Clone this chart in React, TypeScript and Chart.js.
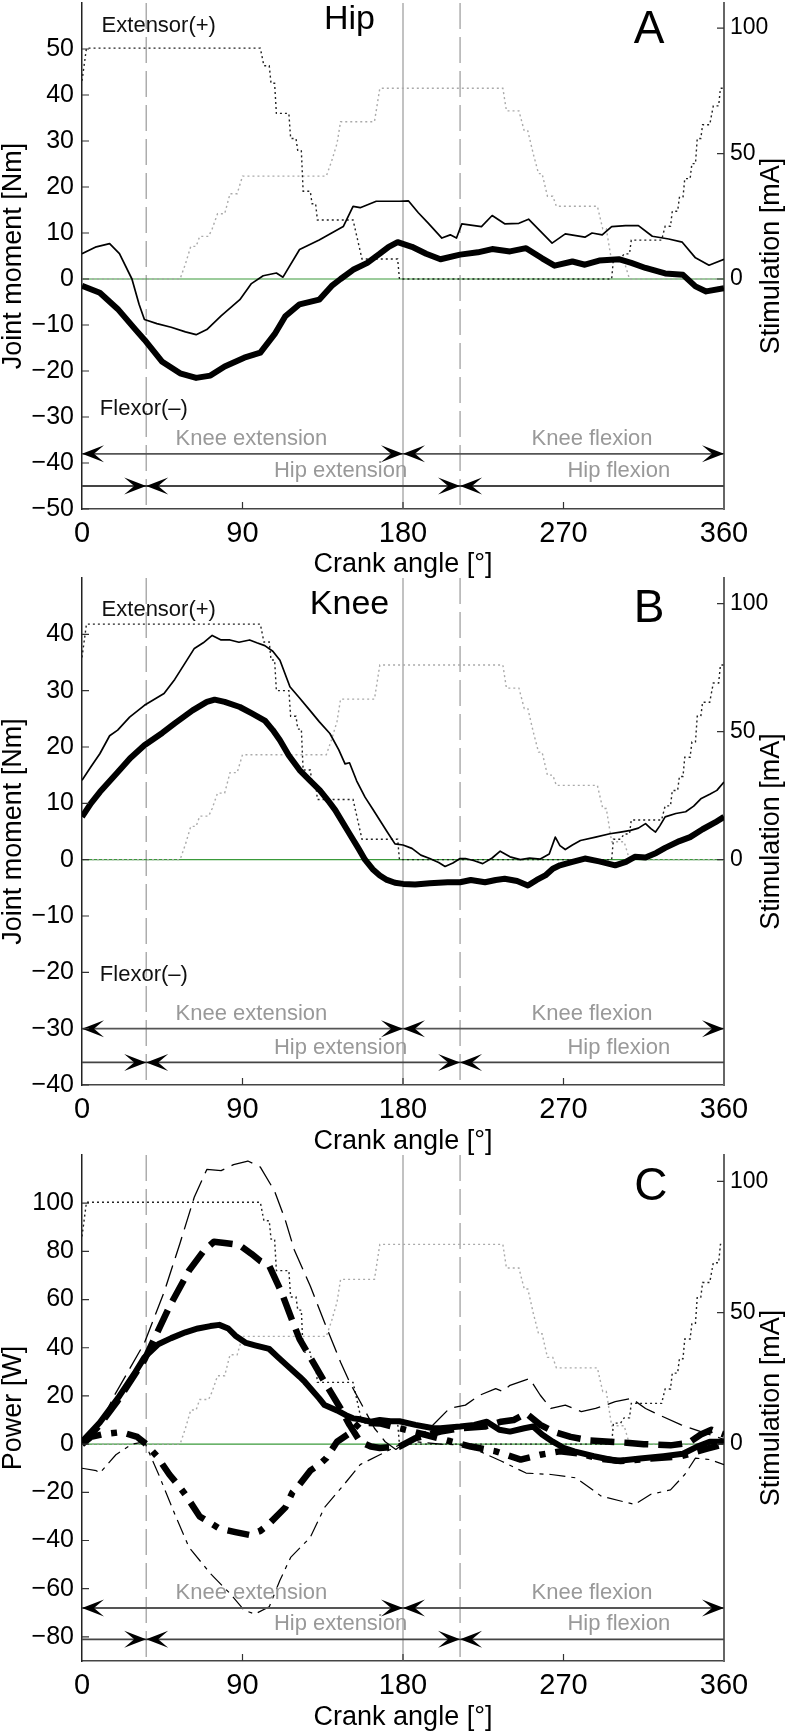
import React, { useEffect, useRef } from 'react';
import { Chart, registerables } from 'chart.js';
Chart.register(...registerables);

const FONT = "'Liberation Sans', Arial, Helvetica, sans-serif";

// ---------- shared axis ticks ----------
const xTicks = [0, 90, 180, 270, 360];
const stimTicks = [0, 50, 100];
const hipTicksA = [-50, -40, -30, -20, -10, 0, 10, 20, 30, 40, 50];
const kneeTicksB = [-40, -30, -20, -10, 0, 10, 20, 30, 40];
const powerTicksC = [-80, -60, -40, -20, 0, 20, 40, 60, 80, 100];

// ---------- stimulation (mA) ----------
const stimExtDeg = [0, 2.5, 100, 102, 105, 106, 108, 109, 116, 117, 120, 121, 123, 124, 128, 129, 131, 132, 152, 157, 177, 178, 297, 298, 302, 304, 307, 308, 325, 327, 330, 331, 334, 335, 337, 338, 341, 342, 344, 345, 347, 348, 352, 354, 357, 358, 360];
const stimExtMA = [79, 92, 92, 85, 85, 78, 78, 66, 66, 56, 56, 51, 51, 35, 35, 30, 30, 23.5, 23.5, 8, 8, 0, 0, 8, 8, 10, 10, 15.5, 15.5, 21, 21, 27, 27, 32.5, 32.5, 40, 40, 46, 46, 56, 56, 61.5, 61.5, 69, 69, 76, 76];
const stimFlxDeg = [0, 55, 58, 61, 64, 66, 71, 73, 76, 80, 83, 87, 90, 137, 140, 143, 145, 164, 167, 236, 238, 245, 248, 250, 253, 256, 258, 261, 264, 266, 289, 292, 294, 297, 304, 307, 360];
const stimFlxMA = [0, 0, 6, 13, 13, 17, 17, 20, 26, 26, 34, 34, 41, 41, 47, 54, 62.7, 62.7, 76, 76, 67, 67, 59, 59, 50, 42, 42, 33, 33, 29, 29, 20, 20, 7, 7, 0, 0];

// ---------- zero reference ----------
const zeroDeg = [0, 360];
const zeroVal = [0, 0];

// ---------- A: hip moment (Nm) ----------
const hipThickDeg = [0, 10, 20, 30, 35, 45, 55, 64, 72, 80, 91, 100, 108, 114, 122, 133, 140, 145, 152, 160, 167, 172, 177, 185, 193, 201, 212, 222, 230, 240, 249, 258, 265, 275, 282, 290, 301, 308, 316, 327, 337, 344, 350, 360];
const hipThickNm = [-1.5, -3, -6.5, -11, -13.2, -18, -20.5, -21.5, -21, -19, -17.1, -16, -12, -8.1, -5.5, -4.5, -1.5, 0, 2, 3.5, 5.5, 7, 8, 7, 5.5, 4.3, 5.3, 5.8, 6.5, 6, 6.7, 4.5, 2.9, 3.8, 3.1, 4, 4.3, 3.5, 2.4, 1.2, 0.9, -1.6, -2.7, -2];
const hipThinDeg = [0, 8, 15.5, 21, 28, 32, 35, 42, 50, 58, 64, 70, 78, 88.5, 95, 101.6, 109, 112.7, 122, 133, 140, 146.5, 152, 156, 165, 178, 183, 188.6, 194, 201.8, 206.5, 210, 213, 224, 230, 237, 245, 250.4, 263.6, 271, 282, 286, 291.7, 297, 304.8, 312, 319.8, 329, 336.6, 344, 351.6, 360];
const hipThinNm = [5.5, 7, 7.7, 5.5, 0, -5.5, -8.8, -9.7, -10.5, -11.5, -12.1, -11, -8, -4.5, -1, 0.7, 1.3, 0.4, 6.4, 8.5, 10, 11.4, 15.8, 15.5, 16.9, 16.9, 17, 14.4, 12.2, 8.9, 9.6, 8.9, 12, 11.4, 13.8, 12, 12.1, 13, 7.8, 9.8, 9.1, 10, 9.6, 11.4, 11.6, 11.6, 9.3, 8.7, 8, 4.6, 3, 4.3];

// ---------- B: knee moment (Nm) ----------
const kneeThickDeg = [0, 5, 10, 20, 27, 35, 45, 52, 62, 70, 74.4, 80, 88.5, 95, 102.5, 107, 111, 116, 122, 128, 133.4, 138, 142, 150, 155, 158.7, 163, 167, 171, 175.5, 180, 186.8, 195, 205, 212, 218, 226, 232, 237, 244, 250, 255, 259.8, 264, 268, 275, 282, 290, 299, 305, 310, 316, 322, 327, 335, 341, 348, 355, 360];
const kneeThickNm = [7.6, 10, 12, 15.5, 18, 20.3, 22.5, 24.2, 26.5, 28, 28.4, 28, 27.1, 26, 24.7, 23, 21.2, 18.5, 15.9, 14, 12.3, 10.5, 8.8, 4.6, 2, 0, -1.7, -2.8, -3.6, -4.1, -4.3, -4.4, -4.2, -4, -4, -3.6, -4, -3.6, -3.4, -3.8, -4.6, -3.6, -2.8, -1.6, -1, -0.4, 0.2, -0.3, -1, -0.4, 0.5, 0.4, 1.2, 2.1, 3.3, 4, 5.4, 6.6, 7.6];
const kneeThinDeg = [0, 5, 10, 15.5, 20, 26.7, 35, 46, 52, 57.6, 63, 68, 73, 78, 83, 88, 94, 98, 102.5, 107, 111, 116.6, 122, 127.8, 133, 139, 144, 147.5, 150, 154, 158.7, 163, 167, 171, 175.5, 180, 185, 190, 195, 200, 203.6, 208, 212, 215, 220, 224.7, 230, 234.5, 240, 245.8, 251, 257, 262, 265.4, 268, 271, 275, 279.5, 288, 296, 302, 307.6, 312, 316, 319, 321.6, 324, 327, 333, 338.5, 343, 347, 352, 356, 360];
const kneeThinNm = [14.1, 16.5, 18.8, 22, 23, 25.3, 27.4, 29.5, 32, 34.8, 37.5, 38.5, 39.8, 39, 39, 38.6, 39, 38.5, 38, 37, 35.4, 30.7, 28.7, 26.5, 24.5, 22.4, 19.5, 17, 17.2, 14, 11.1, 9, 7, 5, 2.8, 2.6, 2, 0.8, 0.2, -0.5, -1.2, -0.6, 0.2, 0.2, -0.2, -0.7, 0.3, 1.5, 0.5, 0, 0.3, 0.1, 1, 4, 2.5, 1.8, 2.6, 3.4, 4, 4.6, 4.9, 5.2, 5.6, 6.4, 5.5, 4.9, 6, 7.6, 8.2, 8.5, 9.5, 10.8, 11.6, 12.3, 13.8];

// ---------- C: power (W) ----------
const powTotalDeg = [0, 10, 21, 30, 35, 43, 50, 58, 65, 72, 77, 82, 86, 92, 97, 105, 110, 114, 122, 125, 133, 136, 143, 148, 152, 156, 162, 167, 173, 178, 187, 197, 201, 212, 220, 227, 234, 240, 248, 253, 258, 264, 270, 276, 287, 300, 313, 326, 337, 345, 352, 360];
const powTotalW = [1, 9, 20, 30, 36, 41.6, 44, 46.4, 48, 49, 49.5, 48, 45, 42, 41, 39.5, 36, 33.3, 28, 25.8, 19, 16.2, 14, 12, 10.7, 10.3, 9.3, 10, 9.5, 9.5, 8, 6.6, 6.6, 7.3, 8, 9.3, 6, 5.2, 6.6, 7.3, 4, 1, -1.5, -3, -5, -7, -6, -5, -4, -1, 1, 1];
const powKneeDeg = [0, 10, 20, 35, 49, 60, 68, 74, 80, 88, 95, 100, 105, 112, 117, 122, 136, 145, 150, 156, 162, 167, 178, 187, 201, 212, 226, 235, 242, 249, 257, 265, 274, 285, 296, 307, 315, 330, 340, 347, 353, 360];
const powKneeW = [0, 8, 18, 35, 57, 72, 80, 84, 83.5, 82.7, 79, 76, 74, 62.8, 53, 43.6, 25.8, 14.8, 8, 1, -1, -1.6, -1, 2.5, 5.2, 6.6, 7.3, 9.3, 10, 12.8, 8, 5, 3, 1.5, 1, 0.5, 0, -0.5, 0.5, 4, 6, 4];
const powHipDeg = [0, 5, 11, 22, 31, 36, 42, 49, 55, 58, 66, 77, 86, 94, 100, 105, 114, 118, 122, 128, 133, 137, 143, 150, 156, 167, 178, 192, 206, 218, 232, 246, 257, 268, 280, 290, 302, 319, 336, 350, 360];
const powHipW = [0, 3, 4, 5, 3, 0, -5, -12.6, -18, -21, -30, -35, -36.5, -37.7, -36, -33, -26.3, -20, -16.7, -11, -8.5, -5.8, 1, 4.5, 9, 8.6, 6.6, 4, 1.3, -1, -3, -6.4, -4.4, -3, -4, -6, -7, -6, -5, -2, 0];
const powModelUpDeg = [0, 10, 18, 35, 46, 55, 63, 70, 78, 85, 93, 100, 108, 114, 119, 128, 136, 145, 150, 156, 164, 170, 176, 180, 186, 195, 206, 215, 223, 232, 236, 240, 251, 257, 263, 271, 280, 288, 299, 308, 316, 324, 336, 347, 360];
const powModelUpW = [0, 8, 20, 42, 63, 83.5, 102.6, 114, 113.5, 116, 117.5, 115, 105, 93, 80.7, 65.6, 50.5, 34, 25.8, 17.6, 6.6, 1, -2.2, 0, 2, 6.6, 14.8, 16.2, 20.3, 23, 21.9, 24.4, 27.2, 20.3, 14.8, 16.2, 13.5, 14.8, 17.6, 19, 14.8, 12, 8, 5.2, 2];
const powModelLoDeg = [0, 8, 10, 19, 28, 35, 43, 52, 60, 72, 83, 91, 97, 105, 111, 117, 128, 136, 147, 156, 167, 178, 187, 201, 212, 223, 235, 249, 263, 277, 291, 302, 310, 319, 330, 338, 344, 352, 360];
const powModelLoW = [-10, -11, -12, -4.4, 0, 1, -12.6, -29, -42.8, -53.7, -62, -69, -70.5, -67.5, -56.5, -47, -38.7, -26.3, -16.7, -8.5, -4.4, -0.3, 1, 0, -0.3, -3, -7, -12, -12.6, -14, -21.5, -23.6, -25, -20.8, -19, -12.6, -5.8, -6.4, -8.5];

// ---------- annotations ----------
const refLineDeg = [36, 180, 212];
const refLineDashed = [true, false, true];
const phaseLabels = [
  { text: 'Knee extension', deg: 95, row: 'knee' },
  { text: 'Knee flexion', deg: 286, row: 'knee' },
  { text: 'Hip extension', deg: 145, row: 'hip' },
  { text: 'Hip flexion', deg: 301, row: 'hip' },
];
// arrowheads: [deg, direction]
const kneeArrows = [[0, -1], [180, 1], [180, -1], [360, 1]];
const hipArrows = [[36, 1], [36, -1], [212, 1], [212, -1]];

type Line = { deg: number[]; val: number[]; width: number; dash: number[]; color: string };
type PanelCfg = {
  top: number; height: number; padTop: number; xAxisH: number; titlePad: number;
  yMin: number; yMax: number; yTicks: number[]; yTitle: string;
  lines: Line[];
  kneeRow: number; hipRow: number;
  heading?: { text: string; deg: number; val: number };
  letter: { text: string; deg: number; val: number };
  ext?: { deg: number; val: number };
  flx?: { deg: number; val: number };
};

const pts = (deg: number[], val: number[]) => deg.map((d, i) => ({ x: d, y: val[i] }));
const fmt = (v: number) => (v < 0 ? '\u2212' + Math.abs(v) : String(v));

function arrowHead(ctx: CanvasRenderingContext2D, x: number, y: number, dir: number) {
  const L = 22, W = 8.5, N = 12;
  ctx.beginPath();
  ctx.moveTo(x, y);
  ctx.lineTo(x - dir * L, y - W);
  ctx.lineTo(x - dir * N, y);
  ctx.lineTo(x - dir * L, y + W);
  ctx.closePath();
  ctx.fill();
}

function Panel({ cfg }: { cfg: PanelCfg }) {
  const ref = useRef<HTMLCanvasElement>(null);
  useEffect(() => {
    const y2Max = 110;
    const y2Min = (y2Max * cfg.yMin) / cfg.yMax;
    const datasets: any[] = cfg.lines.map((l) => ({
      data: pts(l.deg, l.val), yAxisID: 'y', borderColor: l.color, borderWidth: l.width,
      borderDash: l.dash, pointRadius: 0, fill: false, tension: 0, borderJoinStyle: 'round',
    }));
    datasets.push(
      { data: pts(stimExtDeg, stimExtMA), yAxisID: 'y2', borderColor: '#222', borderWidth: 1.4, borderDash: [2, 3], pointRadius: 0, fill: false },
      { data: pts(stimFlxDeg, stimFlxMA), yAxisID: 'y2', borderColor: '#aaa', borderWidth: 1.4, borderDash: [2, 3], pointRadius: 0, fill: false },
      { data: pts(zeroDeg, zeroVal), yAxisID: 'y', borderColor: '#3a9a3a', borderWidth: 1.2, pointRadius: 0, fill: false },
    );

    const decor = {
      id: 'decor',
      beforeDatasetsDraw(chart: any) {
        const { ctx, chartArea: a, scales } = chart;
        ctx.save();
        ctx.strokeStyle = '#999';
        ctx.lineWidth = 1.2;
        refLineDeg.forEach((d, i) => {
          const px = scales.x.getPixelForValue(d);
          ctx.setLineDash(refLineDashed[i] ? [26, 8] : []);
          ctx.beginPath(); ctx.moveTo(px, a.top); ctx.lineTo(px, a.bottom); ctx.stroke();
        });
        ctx.restore();
      },
      afterDatasetsDraw(chart: any) {
        const { ctx, scales } = chart;
        const x = scales.x, y = scales.y;
        ctx.save();
        const kY = y.getPixelForValue(cfg.kneeRow);
        const hY = y.getPixelForValue(cfg.hipRow);
        const x0 = x.getPixelForValue(0), x1 = x.getPixelForValue(360);
        ctx.lineWidth = 1.8;
        ctx.strokeStyle = '#555';
        ctx.beginPath(); ctx.moveTo(x0, kY); ctx.lineTo(x1, kY); ctx.stroke();
        ctx.strokeStyle = '#444';
        ctx.beginPath(); ctx.moveTo(x0, hY); ctx.lineTo(x1, hY); ctx.stroke();
        ctx.fillStyle = '#000';
        kneeArrows.forEach(([d, dir]) => arrowHead(ctx, x.getPixelForValue(d), kY, dir));
        hipArrows.forEach(([d, dir]) => arrowHead(ctx, x.getPixelForValue(d), hY, dir));
        ctx.font = `22px ${FONT}`;
        ctx.fillStyle = '#999';
        ctx.textAlign = 'center';
        ctx.textBaseline = 'middle';
        phaseLabels.forEach((p) => {
          ctx.fillText(p.text, x.getPixelForValue(p.deg), (p.row === 'knee' ? kY : hY) - 15);
        });
        ctx.fillStyle = '#111';
        ctx.textAlign = 'left';
        if (cfg.ext) ctx.fillText('Extensor(+)', x.getPixelForValue(cfg.ext.deg), y.getPixelForValue(cfg.ext.val));
        if (cfg.flx) ctx.fillText('Flexor(\u2013)', x.getPixelForValue(cfg.flx.deg), y.getPixelForValue(cfg.flx.val));
        ctx.textAlign = 'center';
        ctx.fillStyle = '#000';
        if (cfg.heading) {
          ctx.font = `34px ${FONT}`;
          ctx.fillText(cfg.heading.text, x.getPixelForValue(cfg.heading.deg), y.getPixelForValue(cfg.heading.val));
        }
        ctx.font = `46px ${FONT}`;
        ctx.fillText(cfg.letter.text, x.getPixelForValue(cfg.letter.deg), y.getPixelForValue(cfg.letter.val));
        ctx.restore();
      },
      afterDraw(chart: any) {
        const { ctx, chartArea: a, scales } = chart;
        ctx.save();
        ctx.strokeStyle = '#333';
        ctx.lineWidth = 1.2;
        ctx.beginPath();
        xTicks.forEach((v) => {
          if (v <= 0 || v >= 360) return;
          const px = scales.x.getPixelForValue(v);
          ctx.moveTo(px, a.bottom); ctx.lineTo(px, a.bottom - 7);
        });
        cfg.yTicks.forEach((v) => {
          const py = scales.y.getPixelForValue(v);
          ctx.moveTo(a.left, py); ctx.lineTo(a.left + 7, py);
        });
        stimTicks.forEach((v) => {
          const py = scales.y2.getPixelForValue(v);
          ctx.moveTo(a.right, py); ctx.lineTo(a.right - 7, py);
        });
        ctx.stroke();
        ctx.translate(772, (a.top + a.bottom) / 2);
        ctx.rotate(-Math.PI / 2);
        ctx.font = `27px ${FONT}`;
        ctx.fillStyle = '#000';
        ctx.textAlign = 'center';
        ctx.textBaseline = 'middle';
        ctx.fillText('Stimulation [mA]', 0, 0);
        ctx.restore();
      },
    };

    const chart = new Chart(ref.current as HTMLCanvasElement, {
      type: 'line',
      data: { datasets },
      options: {
        animation: false,
        responsive: false,
        maintainAspectRatio: false,
        layout: { padding: { top: cfg.padTop, left: 0, right: 0, bottom: 0 } },
        plugins: { legend: { display: false }, tooltip: { enabled: false } },
        scales: {
          x: {
            type: 'linear', position: 'bottom', min: 0, max: 360,
            afterBuildTicks: (s: any) => { s.ticks = xTicks.map((v) => ({ value: v })); },
            afterFit: (s: any) => { s.height = cfg.xAxisH; s.paddingLeft = 0; s.paddingRight = 0; },
            grid: { display: false, drawTicks: false },
            border: { display: true, color: '#444', width: 1.5 },
            ticks: { color: '#000', font: { family: FONT, size: 29 }, padding: 8, maxRotation: 0, autoSkip: false },
            title: { display: true, text: 'Crank angle [\u00b0]', color: '#000', font: { family: FONT, size: 27, lineHeight: 1 }, padding: { top: 0, bottom: cfg.titlePad } },
          },
          y: {
            type: 'linear', position: 'left', min: cfg.yMin, max: cfg.yMax,
            afterBuildTicks: (s: any) => { s.ticks = cfg.yTicks.map((v) => ({ value: v })); },
            afterFit: (s: any) => { s.width = 82; s.paddingTop = 0; s.paddingBottom = 0; },
            grid: { display: false, drawTicks: false },
            border: { display: true, color: '#222', width: 1.5 },
            ticks: { color: '#000', font: { family: FONT, size: 25 }, padding: 8, callback: (v: any) => fmt(Number(v)) },
            title: { display: true, text: cfg.yTitle, color: '#000', font: { family: FONT, size: 27, lineHeight: 1 }, padding: { top: 0, bottom: 0 } },
          },
          y2: {
            type: 'linear', position: 'right', min: y2Min, max: y2Max,
            afterBuildTicks: (s: any) => { s.ticks = stimTicks.map((v) => ({ value: v })); },
            afterFit: (s: any) => { s.width = 61; s.paddingTop = 0; s.paddingBottom = 0; },
            grid: { display: false, drawTicks: false },
            border: { display: true, color: '#666', width: 2 },
            ticks: { color: '#000', font: { family: FONT, size: 23 }, padding: 6 },
          },
        },
      } as any,
      plugins: [decor],
    });
    return () => chart.destroy();
  }, [cfg]);
  return (
    <canvas ref={ref} width={785} height={cfg.height}
      style={{ position: 'absolute', left: 0, top: cfg.top, width: 785, height: cfg.height }} />
  );
}

const thick = (deg: number[], val: number[]): Line => ({ deg, val, width: 6, dash: [], color: '#000' });
const thin = (deg: number[], val: number[]): Line => ({ deg, val, width: 1.7, dash: [], color: '#000' });

const panelA: PanelCfg = {
  top: 0, height: 578, padTop: 3, xAxisH: 69, titlePad: 0,
  yMin: -50, yMax: 60, yTicks: hipTicksA, yTitle: 'Joint moment [Nm]',
  lines: [thick(hipThickDeg, hipThickNm), thin(hipThinDeg, hipThinNm)],
  kneeRow: -38, hipRow: -45,
  heading: { text: 'Hip', deg: 150, val: 56.4 },
  letter: { text: 'A', deg: 318, val: 54 },
  ext: { deg: 11, val: 55 }, flx: { deg: 10, val: -28.2 },
};
const panelB: PanelCfg = {
  top: 560, height: 595, padTop: 18, xAxisH: 70, titlePad: 0,
  yMin: -40, yMax: 50, yTicks: kneeTicksB, yTitle: 'Joint moment [Nm]',
  lines: [thick(kneeThickDeg, kneeThickNm), thin(kneeThinDeg, kneeThinNm)],
  kneeRow: -30, hipRow: -36,
  heading: { text: 'Knee', deg: 150, val: 45.3 },
  letter: { text: 'B', deg: 318, val: 44.5 },
  ext: { deg: 11, val: 44.3 }, flx: { deg: 10, val: -20.4 },
};
const panelC: PanelCfg = {
  top: 1140, height: 593, padTop: 15, xAxisH: 72, titlePad: 2,
  yMin: -90, yMax: 120, yTicks: powerTicksC, yTitle: 'Power [W]',
  lines: [
    { deg: powTotalDeg, val: powTotalW, width: 6, dash: [], color: '#000' },
    { deg: powKneeDeg, val: powKneeW, width: 6.5, dash: [24, 10], color: '#000' },
    { deg: powHipDeg, val: powHipW, width: 6.5, dash: [22, 10, 6, 10], color: '#000' },
    { deg: powModelUpDeg, val: powModelUpW, width: 1.3, dash: [22, 8], color: '#000' },
    { deg: powModelLoDeg, val: powModelLoW, width: 1.2, dash: [16, 6, 4, 6], color: '#000' },
  ],
  kneeRow: -68, hipRow: -81,
  letter: { text: 'C', deg: 319, val: 106.7 },
};

export default function App() {
  return (
    <div style={{ position: 'absolute', left: 0, top: 0, width: 785, height: 1733, background: '#fff' }}>
      <Panel cfg={panelA} />
      <Panel cfg={panelB} />
      <Panel cfg={panelC} />
    </div>
  );
}
